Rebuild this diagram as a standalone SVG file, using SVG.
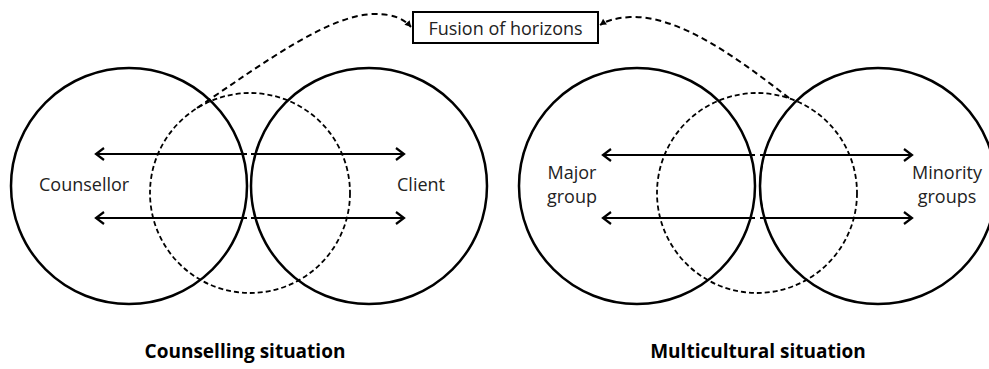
<svg xmlns="http://www.w3.org/2000/svg" width="989" height="369" viewBox="0 0 989 369">
  <style>
    .ring { fill: none; stroke: #000; stroke-width: 2.5; }
    .horizon { fill: none; stroke: #000; stroke-width: 1.8; stroke-dasharray: 5 3; }
    .flow { fill: none; stroke: #000; stroke-width: 2; marker-end: url(#chevron); }
    .link { fill: none; stroke: #000; stroke-width: 2; stroke-dasharray: 6 4; marker-end: url(#tip); }
    .label { font-family: "Open Sans", "Noto Sans", sans-serif; font-size: 18px; fill: #222; }
    .title { font-family: "Open Sans", "Noto Sans", sans-serif; font-size: 19px; font-weight: bold; fill: #000; }
    .box { fill: #fff; stroke: #000; stroke-width: 2; }
  </style>
  <defs>
    <marker id="chevron" viewBox="-10 -7 12 14" markerWidth="12" markerHeight="14" refX="0" refY="0" orient="auto" markerUnits="userSpaceOnUse">
      <path d="M-8,-6 L0,0 L-8,6" fill="none" stroke="#000" stroke-width="2.2"/>
    </marker>
    <marker id="tip" viewBox="-7 -4 8 8" markerWidth="8" markerHeight="8" refX="0" refY="0" orient="auto" markerUnits="userSpaceOnUse">
      <path d="M-6,-3.5 L0,0 L-6,3.5 Z" fill="#000"/>
    </marker>
  </defs>

  <rect width="989" height="369" fill="#fff"/>

  <!-- counselling situation -->
  <g id="counsellor">
    <circle class="ring" cx="129" cy="186" r="118"/>
    <text class="label" x="39" y="191">Counsellor</text>
  </g>
  <g id="client">
    <circle class="ring" cx="369" cy="186" r="118"/>
    <text class="label" x="397" y="191">Client</text>
  </g>
  <g id="counselling-horizon">
    <circle class="horizon" cx="250" cy="193" r="100"/>
  </g>

  <!-- multicultural situation -->
  <g id="major-group">
    <circle class="ring" cx="637" cy="186" r="118"/>
    <text class="label" x="572" y="179" text-anchor="middle">Major</text>
    <text class="label" x="572" y="203" text-anchor="middle">group</text>
  </g>
  <g id="minority-groups">
    <circle class="ring" cx="878" cy="186" r="118"/>
    <text class="label" x="947" y="179" text-anchor="middle">Minority</text>
    <text class="label" x="947" y="203" text-anchor="middle">groups</text>
  </g>
  <g id="multicultural-horizon">
    <circle class="horizon" cx="757" cy="193" r="100"/>
  </g>

  <g id="fusion">
    <rect class="box" x="413" y="12" width="185" height="31"/>
    <text class="label" x="505.5" y="35" text-anchor="middle" font-size="20">Fusion of horizons</text>
  </g>

  <g id="connectors">
    <path class="flow" d="M247,154 H96"/>
    <path class="flow" d="M247,218 H96"/>
    <path class="flow" d="M251,154 H404"/>
    <path class="flow" d="M251,218 H404"/>
    <path class="flow" d="M755,155 H603"/>
    <path class="flow" d="M755,218 H603"/>
    <path class="flow" d="M760,155 H912"/>
    <path class="flow" d="M760,218 H912"/>
    <path class="link" d="M197,108 C265,62 330,14 375,14 C394,14 404,19 411,27"/>
    <path class="link" d="M789,98 C740,60 680,15 630,17 C615,18 606,21 600,25"/>
  </g>

  <g id="captions">
    <text class="title" x="245" y="358" text-anchor="middle">Counselling situation</text>
    <text class="title" x="758" y="358" text-anchor="middle">Multicultural situation</text>
  </g>
</svg>
